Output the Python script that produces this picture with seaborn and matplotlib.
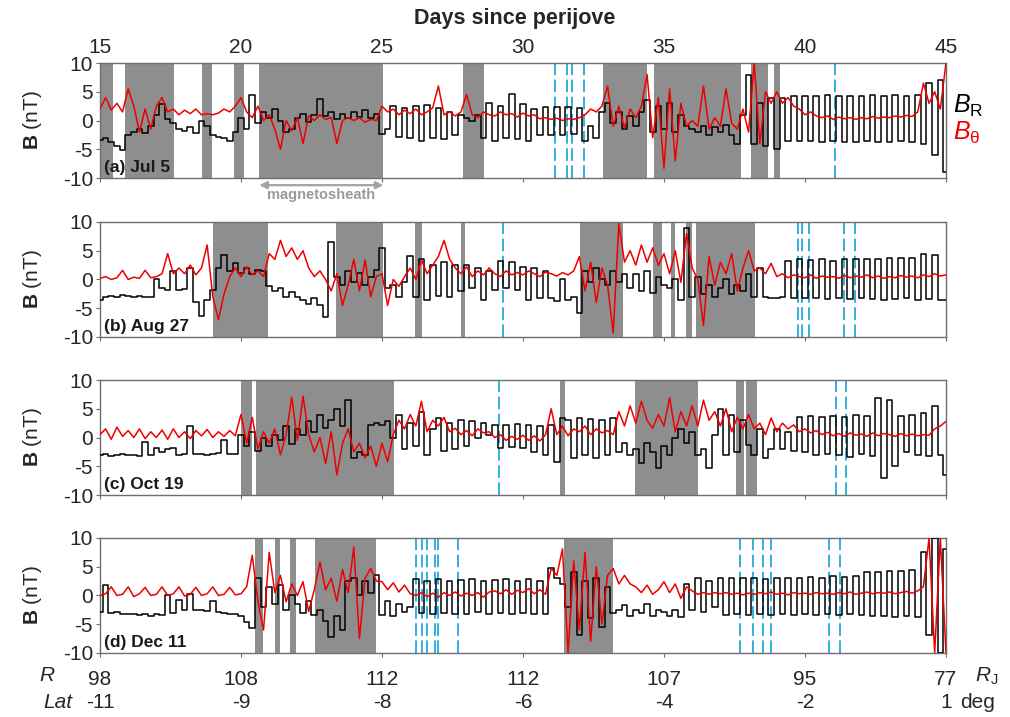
import numpy as np
import pandas as pd
import matplotlib
matplotlib.use("Agg")
import matplotlib.pyplot as plt
import seaborn as sns
from matplotlib.transforms import blended_transform_factory

# ---------------- data ----------------
days = np.round(np.arange(15.0, 45.0001, 0.2), 1)   # sampling grid (days since perijove)

a_BR = [-3.4, -3.0, -3.8, -4.5, -5.2,
        -2.5, -2.0, -1.5, -2.2, -1.0,
        1.0, 2.8, 0.2, -0.5, -1.5,
        -1.8, -1.2, -2.2, 0.0, -1.0,
        -2.5, -2.8, -3.0, -3.5, -2.0,
        0.5, -1.5, 4.5, -0.5, 1.5,
        0.5, 2.0, 0.0, -2.0, -1.5,
        0.5, 1.2, -0.2, 1.0, 3.8,
        0.8, 1.5, 0.3, 1.2, 0.5,
        1.5, 0.6, 1.8, 0.4, 1.2,
        -2.3, -1.5, 2.5, -2.8, 2.2,
        -3.0, 2.5, -3.5, 2.7, -3.0,
        2.2, -3.2, 1.5, -2.5, 1.0,
        0.5, 0.0, 1.0, -3.0, 3.0,
        -3.5, 2.5, -3.0, 4.7, -3.2,
        2.8, -3.5, 2.0, -2.5, 2.4,
        -2.5, 2.4, -2.5, 2.3, -2.4,
        2.2, -3.5, -1.0, -3.0, 1.5,
        3.0, -0.5, 1.5, -1.5, 0.8,
        -1.0, 1.5, 3.5, -2.0, 2.5,
        -1.5, 3.0, -2.0, 1.0, -1.0,
        -1.5, -2.0, -1.0, -2.5, -1.2,
        -2.0, -0.8, -2.5, -4.0, 1.0,
        8.0, -4.0, 3.0, -4.5, 4.0,
        -5.0, 4.0, -3.5, 4.2, -3.5,
        4.3, -3.6, 4.2, -3.8, 4.4,
        -3.5, 4.3, -3.7, 4.2, -3.8,
        4.3, -3.6, 4.4, -3.8, 4.2,
        -3.7, 4.4, -3.6, 4.3, -3.8,
        4.5, -4.0, 6.5, -6.0, 7.0,
        -9.0]
a_Bth = [2.0, 4.0, 1.8, 3.0, 1.5,
         5.5, 2.5, -2.0, 2.0, -1.5,
         2.5, 4.0, 1.5, 2.0, 1.0,
         1.8, 1.2, 2.0, 1.0, 1.2,
         1.0, 1.3, 2.0, 1.5, 2.5,
         4.0, 1.5, 0.5, 2.5, 0.0,
         1.0, -1.5, -5.0, 0.0, -1.8,
         0.5, -4.0, 0.8, 0.0, 1.0,
         0.2, 0.5, -4.0, 0.0, 0.5,
         0.0, 0.5, -0.3, 0.2, 0.0,
         2.5, 1.5, 2.0, 1.0, 1.8,
         1.2, 2.0, 1.0, 1.5, 2.2,
         6.0, 1.0, 1.5, 0.8, 1.5,
         4.5, 1.0, 0.5, 1.5, 1.0,
         0.8, 1.5, 1.0, 1.2, 0.6,
         1.3, 0.8, 1.0, 0.3, 0.5,
         0.2, 0.4, 0.0, 0.3, 0.2,
         0.5, 1.0, 2.0, 1.5, 2.5,
         6.0, -1.0, 2.5, -1.4, 2.0,
         0.5, 2.5, 8.0, -3.0, 4.0,
         -8.3, 5.5, -7.0, 3.0, -1.0,
         0.0, -1.0, 6.0, -1.5, 0.5,
         -1.0, 5.5, -0.5, -1.5, 2.0,
         -2.0, 10.0, -4.0, 5.0, 3.0,
         5.0, 3.0, 4.0, 2.5, 2.0,
         1.0, 1.5, 0.8, 0.5, 0.8,
         0.2, 0.6, 0.3, 0.5, 0.2,
         0.5, 0.3, 0.7, 0.4, 0.6,
         0.5, 0.8, 0.6, 0.9, 0.7,
         1.5, 6.5, 3.0, 5.0, 2.0,
         10.0]

b_BR = [-3.5, -3.0, -2.8, -3.0, -2.7,
        -2.9, -3.0, -2.8, -3.1, -3.0,
        0.0, -1.5, -1.8, 1.4, -1.8,
        -1.6, 2.0, -4.0, -6.4, -3.5,
        -1.8, 2.0, 4.2, 1.5, 2.8,
        1.2, 2.0, 1.0, 1.6, 1.5,
        -1.2, -2.0, -1.5, -3.0, -2.2,
        -3.0, -3.5, -4.2, -3.2, -4.5,
        -6.5, 6.5, 0.5, -1.0, 1.5,
        -0.5, 1.2, -1.0, 0.5, 1.6,
        5.5, -1.5, -1.0, -3.0, -0.5,
        4.0, -3.0, 3.5, -3.5, 2.5,
        -2.8, 3.0, -3.0, 2.5, -2.0,
        2.5, -1.5, 2.0, -3.5, 1.5,
        -1.8, 3.2, -1.5, 3.0, -1.8,
        2.2, -3.5, 2.0, -3.2, 1.5,
        -3.2, -3.8, 0.0, -3.5, -3.0,
        -5.9, 1.5, -0.5, 2.0, 0.0,
        -1.0, 1.5, -0.5, 1.0, -1.5,
        1.0, -2.0, 1.5, -2.4, 0.5,
        -1.0, -1.5, 0.0, -3.5, 9.0,
        -3.0, 0.5, -2.5, -1.0, -3.0,
        -1.5, 0.0, -2.5, -1.0, -2.0,
        1.0, -3.0, 2.0, -3.0, -3.2,
        -3.3, -3.0, 3.2, -3.3, 3.5,
        -3.2, 3.4, -3.3, 3.5, -3.4,
        3.3, -3.2, 3.6, -3.4, 3.5,
        -3.3, 3.6, -3.4, 3.5, -3.5,
        3.7, -3.4, 3.8, -3.3, 3.7,
        -3.5, 4.5, -3.4, 4.3, -3.5,
        -3.5]
b_Bth = [0.2, 0.5, 0.0, 0.3, 1.6,
         0.0, 0.4, 0.2, 1.6, 0.3,
         0.5, 1.0, 4.5, 1.0, 2.0,
         1.0, 2.5, 0.8, 2.0, 6.0,
         -3.0, -7.0, -2.5, 0.5, 2.0,
         0.5, 2.2, 0.8, 1.5, 0.5,
         4.5, 3.5, 6.8, 4.0, 5.5,
         3.5, 5.0, 2.0, 0.5, 1.5,
         0.0, -2.0, 1.0, -4.5, -1.0,
         3.5, -2.0, 3.4, -3.0, 0.5,
         1.0, -4.5, 0.0, -1.2, 0.5,
         2.0, 0.0, 3.4, 1.0, 2.5,
         4.0, 6.8, 3.5, 2.0, 1.0,
         2.2, 0.5, 1.5, 0.8, 2.0,
         1.0, 0.5, 1.5, 0.8, 1.2,
         0.8, 1.5, 1.0, 0.5, 1.3,
         1.0, 0.6, 1.2, 0.8, 1.5,
         4.0, -2.0, 3.0, -4.0, 2.0,
         -1.0, -9.3, 9.7, 3.0, 5.0,
         2.5, 6.0, 3.0, 5.5, 2.5,
         4.5, 1.0, 5.0, -0.5, 8.0,
         2.0, 0.0, -8.0, 4.0, -1.0,
         3.0, 1.0, 4.5, -2.0, 2.0,
         5.0, 1.5, 2.0, 1.0, 2.8,
         0.5, 1.0, 0.3, 0.8, 0.5,
         0.3, 0.8, 0.2, 0.6, 0.4,
         0.5, 0.2, 0.7, 0.3, 0.6,
         0.4, 0.8, 0.3, 0.6, 0.2,
         0.5, 0.3, 0.7, 0.4, 0.6,
         0.3, 0.8, 0.5, 1.0, 0.6,
         0.8]

c_BR = [-3.0, -2.8, -3.2, -3.0, -2.9,
        -3.1, -3.0, -3.2, -0.7, -3.0,
        -1.8, -2.5, -2.0, -1.8, -3.0,
        -2.8, 2.0, -2.9, -2.8, -3.0,
        -2.8, -2.7, -0.4, -2.9, -2.8,
        0.5, -1.5, 1.0, -2.4, 0.0,
        -1.5, 0.5, -0.5, 2.0, -1.2,
        1.5, 0.5, 2.8, 1.0, 4.0,
        1.6, 3.0, 5.0, 2.0, 6.6,
        -3.6, -2.5, -3.0, 2.2, 2.5,
        2.2, 2.8, 0.0, 4.0, -2.0,
        2.5, -1.5, 4.5, -3.0, 1.5,
        3.4, -2.4, 2.5, -2.0, 3.0,
        -1.5, 2.8, 0.0, 2.5, 0.5,
        2.2, -1.8, 2.2, -1.6, 2.3,
        -1.8, 2.2, -2.5, 2.0, -3.0,
        2.2, -4.2, 3.4, 3.0, -3.6,
        3.4, -3.0, 3.2, -3.5, 3.0,
        -3.0, 3.4, -2.5, -1.0, -3.0,
        -2.0, -4.5, -1.0, -2.5, -5.3,
        -1.5, -3.0, 0.0, 1.5, -1.0,
        1.0, -3.0, -2.0, -5.3, 0.5,
        5.0, -3.0, 4.0, -2.5, 3.0,
        -1.3, -3.0, 1.5, -3.6, -2.0,
        1.5, -2.0, 1.0, -2.4, 3.5,
        -2.5, 3.8, -3.0, 3.5, -2.8,
        3.8, -3.0, 3.6, -3.4, 4.0,
        -2.8, 3.8, -3.2, 6.9, -7.0,
        6.5, -5.0, 3.8, -2.5, 4.0,
        -3.0, 4.2, -3.2, 5.4, -3.0,
        -6.5]
c_Bth = [0.5, 1.5, -0.3, 1.8, 0.2,
         1.2, 0.0, 1.5, -0.2, 1.0,
         0.0, 1.3, -0.3, 1.5, 0.0,
         1.0, -0.2, 1.2, 0.3, 1.4,
         0.0, 1.0, 0.2, 1.2, 0.3,
         4.0, -1.0, 3.5, -2.0, 1.0,
         -1.0, 1.5, -3.0, 0.5, 7.0,
         -0.5, 7.2, 0.5, -2.5, 0.0,
         -4.5, 1.0, -6.5, -1.0, 1.5,
         -2.5, -1.0, -3.5, -1.5, -5.0,
         -1.0, -4.2, 0.5, 3.0, 1.5,
         4.0, 2.0, 6.3, 1.0, 3.0,
         2.0, 3.5, 1.0, 1.6, 0.5,
         1.2, 0.3, 1.5, 0.8, 1.0,
         0.0, 0.5, -0.5, 0.2, -0.3,
         0.4, -0.5, 0.3, -0.6, 0.5,
         5.0, 0.5, 2.0, 0.3, 1.5,
         1.0, 2.0, 0.5, 1.5, 0.8,
         1.2, 0.5, 4.5, 2.0, 5.5,
         2.5, 6.3, 3.0, 1.6, 4.0,
         2.0, 6.9, 1.0, 4.5, 2.0,
         5.5, 2.0, 6.5, 3.0, 4.5,
         2.0, 5.0, 1.0, 3.5, 1.5,
         4.0, 1.5, 2.5, 0.5, 3.4,
         1.0, 2.5, 1.5, 2.2, 1.0,
         1.5, 0.8, 1.2, 0.5, 0.9,
         0.3, 0.7, 0.2, 0.8, 0.4,
         0.6, 0.2, 0.8, 0.3, 0.7,
         0.5, 0.2, 0.7, 0.3, 0.6,
         0.3, 0.5, 0.4, 1.5, 2.0,
         2.8]

d_BR = [-2.8, 1.8, -3.0, -2.9, -3.2,
        -3.3, -3.2, -3.4, -3.3, -3.5,
        -3.2, -3.4, 0.0, -3.0, -0.8,
        -2.6, 0.3, -2.5, -2.6, -2.7,
        -1.0, -2.8, -3.0, -3.2, -3.3,
        -3.5, -4.6, -5.7, 3.0, -2.0,
        1.5, -1.5, 1.8, -2.5, 0.0,
        -1.5, -3.0, -1.0, -3.4, -2.5,
        -4.5, -7.2, -3.5, -6.0, 2.5,
        3.0, 0.0, 2.5, 0.5, 3.5,
        -3.4, -1.0, -3.5, -1.5, -2.8,
        -2.0, 2.8, -3.0, 2.6, -3.2,
        2.8, -3.0, 2.5, -3.3, 2.7,
        -3.2, 2.8, -2.9, 2.6, -3.3,
        2.7, -3.0, 2.9, -3.2, 2.6,
        -3.1, 2.8, -3.2, 2.5, -3.3,
        4.7, 3.0, 2.0, -2.0, 4.0,
        -6.9, 2.5, -4.0, 3.0, -5.5,
        1.5, -3.0, -2.5, -1.7, -3.5,
        -2.5, -3.0, -1.5, -3.5, -2.5,
        -2.8, -3.5, -2.5, -3.8, 2.0,
        -2.5, 3.0, -2.8, 2.5, -2.0,
        3.0, -3.4, 3.0, -3.3, 3.1,
        -3.4, 3.0, -3.3, 2.9, -3.4,
        3.0, -3.3, 3.1, -3.4, 3.0,
        -3.3, 3.2, -3.4, 3.1, -3.3,
        3.3, -3.4, 3.2, -3.3, 3.4,
        -3.4, 4.0, -3.6, 4.0, -3.5,
        4.2, -3.7, 4.3, -3.6, 4.5,
        -3.8, 7.5, -6.9, 10.0, -10.0,
        8.0]
d_Bth = [0.0, 0.3, 1.5, 0.0, 0.2,
         1.5, -0.2, 0.3, 1.4, 0.0,
         0.2, 1.5, 0.0, 0.3, 1.5,
         -0.1, 0.2, 1.4, 0.0, 0.3,
         1.5, 0.0, 0.2, 1.4, 0.1,
         0.3, 1.5, 7.0, -1.0, -6.0,
         7.5, 0.5, 3.5, -1.1, 2.0,
         0.0, 2.4, -2.8, 1.0, 5.8,
         1.0, 3.0, -1.0, 4.5, 0.5,
         8.4, -7.5, 3.0, 4.7, 2.5,
         2.4, 1.0, 2.2, 0.6, 1.8,
         0.3, 0.0, 0.5, -0.2, 0.4,
         -0.3, 0.5, 0.0, 0.6, -0.1,
         0.4, 0.0, 0.5, -0.3, 0.6,
         0.8, 0.3, 1.0, 0.2, 0.9,
         0.5, 1.2, 0.3, 1.0, 0.2,
         4.7, 3.5, 8.1, -10.0, 6.0,
         -6.0, 7.5, -8.0, 5.0, -5.0,
         3.5, 4.7, 2.0, 3.5, 2.0,
         1.5, 0.5, 1.8, 0.2, 1.0,
         2.4, 0.5, 2.0, -0.5, 1.5,
         0.8, 0.2, 0.5, 0.2, 0.5,
         0.3, 0.5, 0.2, 0.4, 0.1,
         0.4, 0.2, 0.5, 0.3, 0.6,
         0.2, 0.4, 0.1, 0.5, 0.3,
         0.4, 0.2, 0.5, 0.3, 0.4,
         0.2, 0.5, 0.3, 0.6, 0.2,
         0.4, 0.6, 0.3, 0.5, 0.4,
         0.6, 0.3, 0.5, 0.7, 0.4,
         0.8, 1.5, 10.0, -10.0, 10.0,
         -10.0]

# magnetosheath intervals (day ranges) and magnetopause crossings (days)
a_sheath = [(15.0, 15.47), (15.89, 17.62), (18.63, 18.97), (19.75, 20.10), (20.65, 25.05),
            (27.86, 28.62), (32.85, 34.39), (34.65, 37.73), (38.07, 38.69), (38.91, 39.11)]
a_cross = [31.12, 31.55, 31.75, 32.15, 41.08]
b_sheath = [(19.02, 20.95), (23.36, 25.05), (26.16, 26.43), (27.79, 27.95), (32.02, 33.56),
            (34.6, 34.94), (35.25, 35.38), (35.78, 35.98), (36.13, 38.23)]
b_cross = [29.30, 39.74, 39.88, 40.15, 41.38, 41.77]
c_sheath = [(20.0, 20.40), (20.52, 25.44), (31.31, 31.49), (33.97, 36.19), (37.54, 37.84), (37.92, 38.31)]
c_cross = [29.16, 41.09, 41.46]
d_sheath = [(20.50, 20.79), (21.22, 21.39), (21.74, 21.95), (22.62, 24.79), (31.47, 33.20)]
d_cross = [26.21, 26.43, 26.60, 26.87, 26.99, 27.68, 37.70, 38.14, 38.51, 38.79, 40.85, 41.25]

panel_labels = ["(a) Jul 5", "(b) Aug 27", "(c) Oct 19", "(d) Dec 11"]
day_ticks = [15, 20, 25, 30, 35, 40, 45]
R_labels = ["98", "108", "112", "112", "107", "95", "77"]
Lat_labels = ["-11", "-9", "-8", "-6", "-4", "-2", "1"]

# ---------------- style ----------------
sns.set_style("ticks")
plt.rcParams["font.family"] = ["Liberation Sans", "DejaVu Sans"]
plt.rcParams["mathtext.fontset"] = "custom"
plt.rcParams["mathtext.rm"] = "Liberation Sans"
plt.rcParams["mathtext.it"] = "Liberation Sans:italic"
plt.rcParams["mathtext.bf"] = "Liberation Sans:bold"
plt.rcParams["axes.unicode_minus"] = False

SHEATH = "#8e8e8e"
CROSS = "#22a9dc"
FRAME = "#6e6e6e"
RED = "#ee0000"

fig = plt.figure(figsize=(10.1, 7.17), dpi=100)
bottoms = [0.7517, 0.530, 0.3096, 0.0893]
panels = [(a_BR, a_Bth, a_sheath, a_cross),
          (b_BR, b_Bth, b_sheath, b_cross),
          (c_BR, c_Bth, c_sheath, c_cross),
          (d_BR, d_Bth, d_sheath, d_cross)]

axes = []
for k, (br, bth, sheath, cross) in enumerate(panels):
    ax = fig.add_axes([0.099, bottoms[k], 0.8376, 0.1604])
    axes.append(ax)
    for (s, e) in sheath:
        ax.axvspan(s, e, color=SHEATH, lw=0, zorder=0)
    for c in cross:
        ax.axvline(c, color=CROSS, lw=1.3, dashes=(7, 2.5), zorder=1)
    df = pd.DataFrame({"day": days, "BR": br, "Bth": bth})
    sns.lineplot(data=df, x="day", y="BR", ax=ax, color="black", lw=1.1,
                 estimator=None, drawstyle="steps-mid", zorder=3)
    sns.lineplot(data=df, x="day", y="Bth", ax=ax, color=RED, lw=1.1,
                 estimator=None, zorder=4)
    ax.set_xlim(15, 45)
    ax.set_ylim(-10, 10)
    ax.set_yticks([-10, -5, 0, 5, 10])
    ax.set_xticks(day_ticks)
    ax.tick_params(axis="y", labelsize=15, length=3, color=FRAME, direction="out", pad=2)
    ax.tick_params(axis="x", length=3, color=FRAME, direction="out")
    for sp in ax.spines.values():
        sp.set_color(FRAME)
        sp.set_linewidth(1.0)
    ax.set_xlabel("")
    ax.set_ylabel(r"$\mathbf{B}$ (nT)", fontsize=15)
    ax.yaxis.set_label_coords(-0.066, 0.5)
    ax.text(0.005, 0.025, panel_labels[k], transform=ax.transAxes, fontsize=12.5,
            fontweight="bold", color="#1a1a1a", ha="left", va="bottom", zorder=5)
    if k < 3:
        ax.set_xticklabels([])

# top axis labels on panel (a)
axa = axes[0]
axa.tick_params(axis="x", top=False, labeltop=True, labelbottom=False, labelsize=15, pad=1)
axa.set_xticklabels([str(d) for d in day_ticks])
fig.text(0.51, 0.974, "Days since perijove", fontsize=15.5, fontweight="bold",
         ha="center", va="center")

# legend-like labels
axa.text(1.008, 0.63, r"$B_{\mathrm{R}}$", transform=axa.transAxes, fontsize=18,
         color="black", ha="left", va="center")
axa.text(1.008, 0.39, r"$B_{\mathrm{θ}}$", transform=axa.transAxes, fontsize=18,
         color=RED, ha="left", va="center")

# magnetosheath annotation
tr = blended_transform_factory(axa.transData, axa.transAxes)
axa.annotate("", xy=(20.65, -0.062), xytext=(25.05, -0.062), xycoords=tr, textcoords=tr,
             arrowprops=dict(arrowstyle="<|-|>", color="#a3a3a3", lw=1.6,
                             shrinkA=0, shrinkB=0, mutation_scale=11),
             annotation_clip=False)
axa.text((20.65 + 25.05) / 2, -0.15, "magnetosheath", transform=tr, fontsize=10.5,
         fontweight="bold", color="#9a9a9a", ha="center", va="center")

# bottom labels on panel (d)
axd = axes[3]
axd.set_xticklabels([f"{r}\n{l}" for r, l in zip(R_labels, Lat_labels)],
                    fontsize=15, linespacing=1.28)
axd.tick_params(axis="x", pad=9)
axd.text(-0.063, -0.2, "R", transform=axd.transAxes, fontsize=15, style="italic",
         ha="center", va="center")
axd.text(-0.05, -0.43, "Lat", transform=axd.transAxes, fontsize=15, style="italic",
         ha="center", va="center")
axd.text(1.034, -0.2, r"$R_{\mathrm{J}}$", transform=axd.transAxes, fontsize=15,
         ha="left", va="center")
axd.text(1.0165, -0.43, "deg", transform=axd.transAxes, fontsize=15,
         ha="left", va="center")

fig.savefig("out.png", dpi=100)
